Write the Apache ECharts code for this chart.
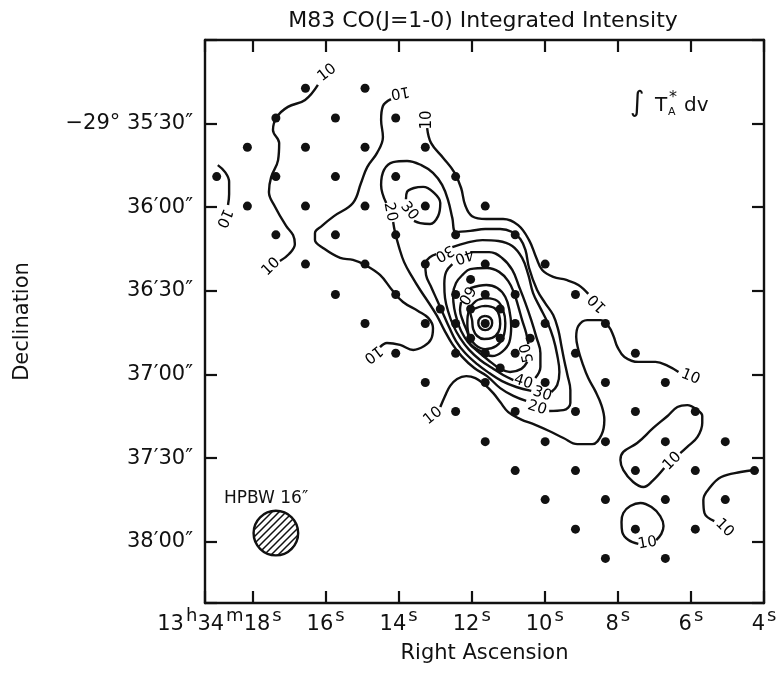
<!DOCTYPE html>
<html>
<head>
<meta charset="utf-8">
<script src="https://cdn.jsdelivr.net/npm/echarts/dist/echarts.min.js"></script>
<style>html,body{margin:0;padding:0;background:#fff}#c{width:783px;height:679px}</style>
</head>
<body>
<div id="c"></div>
<script>
// ---- axis ticks ----
const raTickValues = [4, 6, 8, 10, 12, 14, 16, 18];           // RA seconds (13h34m + s)
const decTickValues = [30, 60, 90, 120, 150, 180];            // arcsec south of -29°35'00"
const decTickText = ['−29° 35′30″', '36′00″', '36′30″', '37′00″', '37′30″', '38′00″'];

// ---- observed positions (RA s, Dec offset ") ----
const obsPoints = [
  [16.55,17.3],[14.92,17.3],
  [17.36,28.0],[15.73,28.0],[14.08,28.0],
  [18.14,38.5],[16.55,38.5],[14.92,38.5],[13.27,38.5],
  [18.98,49.0],[17.36,49.0],[15.73,49.0],[14.08,49.0],[12.44,49.0],
  [18.14,59.6],[16.55,59.6],[14.92,59.6],[13.27,59.6],[11.63,59.6],
  [17.36,69.9],[15.73,69.9],[14.08,69.9],[12.44,69.9],[10.81,69.9],
  [16.55,80.4],[14.92,80.4],[13.27,80.4],[11.63,80.4],[9.99,80.4],
  [15.73,91.3],[14.08,91.3],[12.44,91.3],[11.63,91.3],[10.81,91.3],[9.16,91.3],
  [14.92,101.7],[13.27,101.7],[12.44,101.7],[11.63,101.7],[10.81,101.7],[9.99,101.7],[8.34,101.7],
  [14.08,112.4],[12.44,112.4],[11.63,112.4],[10.81,112.4],[9.16,112.4],[7.52,112.4],
  [13.27,122.9],[11.63,122.9],[9.99,122.9],[8.34,122.9],[6.70,122.9],
  [12.44,133.3],[10.81,133.3],[9.16,133.3],[7.52,133.3],[5.88,133.3],
  [11.63,144.1],[9.99,144.1],[8.34,144.1],[6.70,144.1],[5.06,144.1],
  [10.81,154.5],[9.16,154.5],[7.52,154.5],[5.88,154.5],[4.26,154.5],
  [9.99,164.9],[8.34,164.9],[6.70,164.9],[5.06,164.9],
  [9.16,175.5],[7.52,175.5],[5.88,175.5],
  [8.34,186.0],[6.70,186.0],
  [12.03,85.9],[12.86,96.5],[12.03,96.5],[11.22,96.5],[12.03,107.0],[11.22,107.0],[10.40,107.0],[11.22,117.7]
];

// ---- contour lines (RA s, Dec offset ") ----
const c10_nw = [[16.21,16.1],[16.56,21.5],[17.03,24.0],[17.33,27.6],[17.44,32.3],[17.27,37.0],[17.30,43.1],[17.49,49.2],[17.55,54.5],[17.38,59.9],[17.08,66.7],[16.89,70.0],[16.84,73.2],[17.00,76.8],[17.25,79.3]];
const c10_w = [[18.95,44.9],[18.75,47.4],[18.64,50.9],[18.64,55.3],[18.67,59.2]];
const c10_bay = [[14.21,21.2],[14.43,23.7],[14.48,28.7],[14.43,34.8],[14.59,40.5],[14.86,45.6],[15.03,51.3],[15.25,58.5],[15.77,63.2],[16.10,66.7],[16.29,69.3],[16.29,71.8],[16.07,74.6],[15.60,78.2],[15.25,78.9],[14.92,80.7],[14.51,84.3],[14.18,89.7],[13.88,94.0],[13.47,97.2],[13.19,99.7],[13.06,103.3],[13.11,107.3],[13.30,109.8],[13.60,111.2],[13.96,109.4],[14.32,108.7],[14.51,110.2]];
const c10_ne = [[13.22,31.6],[13.11,37.0],[12.78,42.3],[12.48,47.4],[12.29,53.1],[12.18,59.2],[11.99,63.2],[11.60,64.2],[11.14,64.2],[10.73,66.4],[10.43,71.8],[10.23,78.2],[10.07,82.5],[9.77,85.0],[9.41,86.1],[9.08,87.9],[8.81,91.1]];
const c10_s = [[12.86,131.7],[12.73,127.7],[12.59,124.1],[12.40,121.6],[12.15,120.6],[11.90,121.3],[11.63,123.8],[11.41,126.7],[11.22,129.9],[11.00,133.5],[10.67,136.0],[10.26,138.1],[9.88,140.3],[9.49,142.8],[9.11,145.0],[8.70,145.0],[8.45,141.7],[8.37,136.3],[8.45,131.0],[8.62,125.9],[8.81,121.3],[8.97,115.9],[9.08,111.2],[9.14,106.6],[9.08,102.6],[8.84,100.5],[8.48,100.5],[8.26,102.6],[8.12,106.2],[8.01,110.2],[7.82,113.7],[7.44,115.5],[6.97,115.5],[6.62,117.0],[6.34,119.1]];
const c10_se1 = [[6.73,153.6],[7.05,158.2],[7.30,160.4],[7.58,158.6],[7.85,154.3],[7.93,150.7],[7.85,147.8],[7.47,144.6],[7.03,139.2],[6.64,134.9],[6.37,131.7],[6.10,131.0],[5.82,132.8],[5.69,134.9],[5.69,137.4],[5.82,142.4],[6.10,146.0],[6.29,148.2]];
const c10_se2 = [[6.95,179.4],[6.81,177.2],[6.75,174.4],[6.84,170.8],[7.08,167.6],[7.38,166.1],[7.66,167.2],[7.85,169.7],[7.90,172.9],[7.88,176.5],[7.71,179.4],[7.44,180.8]];
const c10_e = [[4.26,154.3],[4.64,155.0],[5.17,156.8],[5.47,160.4],[5.66,165.0],[5.63,169.7],[5.36,172.6]];
const c20_a = [[14.34,58.5],[14.48,52.0],[14.40,46.6],[14.15,43.8],[13.77,43.4],[13.38,44.9],[13.06,47.7],[12.81,52.0],[12.64,57.8],[12.53,63.9],[12.43,68.9],[12.04,68.5],[11.63,67.8],[11.22,67.8],[10.89,68.9],[10.67,71.4],[10.53,75.3],[10.43,81.8],[10.21,89.7],[9.99,94.4],[9.77,98.7],[9.63,104.1],[9.55,109.4],[9.47,114.8],[9.38,120.2],[9.30,125.6],[9.30,130.2],[9.49,132.8],[9.88,133.1]];
const c20_b = [[10.51,129.5],[10.86,127.7],[11.22,124.9],[11.58,120.6],[11.93,117.7],[12.26,113.7],[12.53,109.1],[12.75,104.1],[12.95,99.0],[13.19,94.0],[13.41,89.7],[13.63,85.0],[13.85,79.7],[13.99,74.3],[14.10,68.9],[14.15,65.3]];
const c30_loop = [[13.80,57.1],[13.77,54.5],[13.58,53.1],[13.33,52.7],[13.06,54.5],[12.86,58.5],[12.92,63.2],[13.14,66.0],[13.41,65.7],[13.58,64.9]];
const c30_a = [[12.53,74.3],[12.15,72.8],[11.71,71.8],[11.27,72.1],[10.89,73.9],[10.62,78.2],[10.45,84.3],[10.32,90.8],[10.12,96.2],[9.93,101.2],[9.77,106.9],[9.66,113.0],[9.60,119.1],[9.66,123.8],[9.82,126.3]];
const c30_b = [[10.37,125.9],[10.78,124.5],[11.17,122.4],[11.52,119.5],[11.85,116.3],[12.18,112.3],[12.43,108.0],[12.62,103.0],[12.78,98.3],[12.95,93.3],[13.11,88.6],[13.25,84.3],[13.27,80.4],[13.14,77.9],[12.97,76.8]];
const c40_a = [[12.04,76.1],[11.52,76.1],[11.17,78.2],[10.89,82.5],[10.70,88.6],[10.53,94.4],[10.37,100.5],[10.23,106.6],[10.12,112.3],[10.12,117.3],[10.26,121.3]];
const c40_b = [[10.86,122.0],[11.14,120.2],[11.44,117.7],[11.77,114.8],[12.07,111.2],[12.32,106.9],[12.51,102.3],[12.64,97.6],[12.73,92.6],[12.75,87.5],[12.70,83.2],[12.53,80.4]];
const c50 = [[10.48,115.5],[10.64,118.0],[10.95,119.1],[11.25,117.7],[11.55,114.8],[11.82,111.9],[12.10,108.4],[12.29,104.4],[12.40,100.5],[12.48,96.2],[12.51,91.5],[12.43,87.2],[12.23,84.0],[12.04,82.2],[11.58,81.8],[11.25,83.2],[11.00,86.5],[10.84,90.8],[10.73,95.4],[10.62,100.5],[10.51,105.1],[10.45,109.1]];
const c60 = [[12.04,89.0],[11.60,87.9],[11.30,89.0],[11.08,92.2],[10.97,96.9],[10.92,102.6],[10.97,108.4],[11.17,111.9],[11.44,113.4],[11.71,111.9],[12.04,109.1],[12.10,105.5],[12.23,101.2],[12.32,96.9],[12.29,94.0]];
const c70 = [[11.60,92.6],[11.30,93.6],[11.14,96.9],[11.08,101.5],[11.14,106.6],[11.33,109.8],[11.63,110.9],[11.90,109.4],[12.07,106.2],[12.12,101.5],[12.07,96.9],[11.88,93.6],[11.60,92.6]];
const c80 = [[11.63,95.4],[11.38,96.2],[11.25,98.7],[11.22,101.9],[11.27,104.8],[11.44,106.9],[11.66,107.3],[11.85,106.2],[11.96,103.7],[11.99,100.5],[12.04,97.6],[11.80,95.8],[11.63,95.4]];
const c90 = [[11.63,99.0],[11.49,99.7],[11.44,101.5],[11.49,103.3],[11.63,104.1],[11.77,103.3],[11.82,101.5],[11.77,99.7],[11.63,99.0]];

// ---- contour labels ----
const contourLabelPos = [[15.96,11.8],[17.49,81.4],[18.78,63.9],[13.96,18.7],[14.70,112.7],[13.22,28.7],[8.56,94.4],[13.06,134.9],[6.01,120.9],[6.51,151.1],[7.19,180.5],[5.08,175.1],[14.23,61.7],[13.71,61.4],[12.75,76.4],[12.21,77.5],[12.15,91.5],[10.48,112.3],[10.59,122.7],[10.07,127.0],[10.21,132.0]];
const contourLabelText = ['10','10','10','10','10','10','10','10','10','10','10','10','20','30','30','40','60','50','40','30','20'];
const contourLabelAngle = [38,44,246,190,217,90,135,39,-22,45,10,-45,-79,-51,209,200,239,103,-18,-18,-18];

// ---- beam ----
const beam = [[17.36, 176.9, 16]]; // RA, Dec offset, HPBW (")

const contourLines = [c10_nw,c10_w,c10_bay,c10_ne,c10_s,c10_se1,c10_se2,c10_e,c20_a,c20_b,c30_loop,c30_a,c30_b,c40_a,c40_b,c50,c60,c70,c80,c90];

const F = 'DejaVu Sans';
const INK = '#111';

// hatch pattern
const pc = document.createElement('canvas');
pc.width = 7; pc.height = 7;
const g = pc.getContext('2d');
g.strokeStyle = INK; g.lineWidth = 1.5; g.lineCap = 'square';
g.beginPath();
g.moveTo(-1, 8); g.lineTo(8, -1);
g.moveTo(-1, 1); g.lineTo(1, -1);
g.moveTo(6, 8); g.lineTo(8, 6);
g.stroke();

const chart = echarts.init(document.getElementById('c'), null, {renderer: 'canvas'});

const xBase = {
  type: 'value', min: 4, max: 19.3, interval: 2, inverse: true,
  splitLine: {show: false},
  axisLine: {show: true, onZero: false, lineStyle: {color: INK, width: 2.4}},
  axisTick: {show: true, inside: true, length: 12, lineStyle: {color: INK, width: 2.2}}
};
const yBase = {
  type: 'value', min: 0, max: 202, interval: 30, inverse: true,
  splitLine: {show: false},
  axisLine: {show: true, onZero: false, lineStyle: {color: INK, width: 2.4}},
  axisTick: {show: true, inside: true, length: 12, lineStyle: {color: INK, width: 2.2}}
};

const series = contourLines.map(pts => ({
  type: 'line', data: pts, smooth: 0.4, symbol: 'none', silent: true, z: 3,
  lineStyle: {color: INK, width: 2.4}
}));

series.push({
  type: 'scatter', data: obsPoints, symbol: 'circle', symbolSize: 9, silent: true, z: 4,
  itemStyle: {color: INK, opacity: 1}
});

series.push({
  type: 'scatter', symbolSize: 0, silent: true, z: 5,
  itemStyle: {color: INK, opacity: 1},
  data: contourLabelPos.map((p, i) => ({value: p, name: contourLabelText[i], label: {rotate: contourLabelAngle[i]}})),
  label: {show: true, position: 'inside', formatter: p => p.name, fontFamily: F, fontSize: 15, color: '#000', opacity: 1}
});

series.push({
  type: 'custom', data: beam, silent: true, z: 4,
  renderItem: (params, api) => {
    const c = api.coord([api.value(0), api.value(1)]);
    const s = api.size([0, api.value(2)]);
    const r = Math.abs(s[1]) / 2;
    return {type: 'circle', shape: {cx: c[0], cy: c[1], r: r},
      style: {fill: {image: pc, repeat: 'repeat'}, stroke: INK, lineWidth: 2.4}};
  }
});

chart.setOption({
  animation: false,
  backgroundColor: '#fff',
  title: {
    text: 'M83 CO(J=1-0) Integrated Intensity', left: 478, textAlign: 'center', top: 5,
    textStyle: {fontFamily: F, fontSize: 22, fontWeight: 'normal', color: INK}
  },
  grid: {left: 205, top: 40, width: 559, height: 563, containLabel: false},
  xAxis: [
    Object.assign({}, xBase, {
      position: 'bottom',
      name: 'Right Ascension', nameLocation: 'middle', nameGap: 40,
      nameTextStyle: {fontFamily: F, fontSize: 21, color: INK},
      axisLabel: {
        show: true, margin: 4, showMinLabel: true, showMaxLabel: true,
        formatter: v => {
          if (raTickValues.indexOf(v) < 0) return '';
          return v === 18 ? '{n|13}{u|h}{n|34}{u|m}{n|18}{u|s}{pad| }' : '{n|' + v + '}{u|s}';
        },
        rich: {
          n: {fontFamily: F, fontSize: 21, color: INK},
          u: {fontFamily: F, fontSize: 18, color: INK, padding: [0, 0, 18, 2]},
          pad: {width: 66}
        }
      }
    }),
    Object.assign({}, xBase, {position: 'top', axisLabel: {show: false}})
  ],
  yAxis: [
    Object.assign({}, yBase, {
      position: 'left',
      name: 'Declination', nameLocation: 'middle', nameGap: 172, nameRotate: 90,
      nameTextStyle: {fontFamily: F, fontSize: 21, color: INK},
      axisLabel: {
        show: true, margin: 12, fontFamily: F, fontSize: 21, color: INK,
        formatter: v => { const i = decTickValues.indexOf(v); return i < 0 ? '' : decTickText[i]; }
      }
    }),
    Object.assign({}, yBase, {position: 'right', axisLabel: {show: false}})
  ],
  graphic: [
    {type: 'text', left: 630, top: 90, silent: true, style: {text: '∫', font: '28px "DejaVu Sans"', fill: INK}},
    {type: 'text', left: 655, top: 96, silent: true, style: {text: 'T', font: '20px "DejaVu Sans"', fill: INK}},
    {type: 'text', left: 668, top: 107, silent: true, style: {text: 'A', font: '11px "DejaVu Sans"', fill: INK}},
    {type: 'text', left: 669, top: 90, silent: true, style: {text: '*', font: '16px "DejaVu Sans"', fill: INK}},
    {type: 'text', left: 684, top: 96, silent: true, style: {text: 'dv', font: '20px "DejaVu Sans"', fill: INK}},
    {type: 'text', left: 224, top: 490, silent: true, style: {text: 'HPBW 16″', font: '17px "DejaVu Sans"', fill: INK}}
  ],
  series: series
});
</script>
</body>
</html>
